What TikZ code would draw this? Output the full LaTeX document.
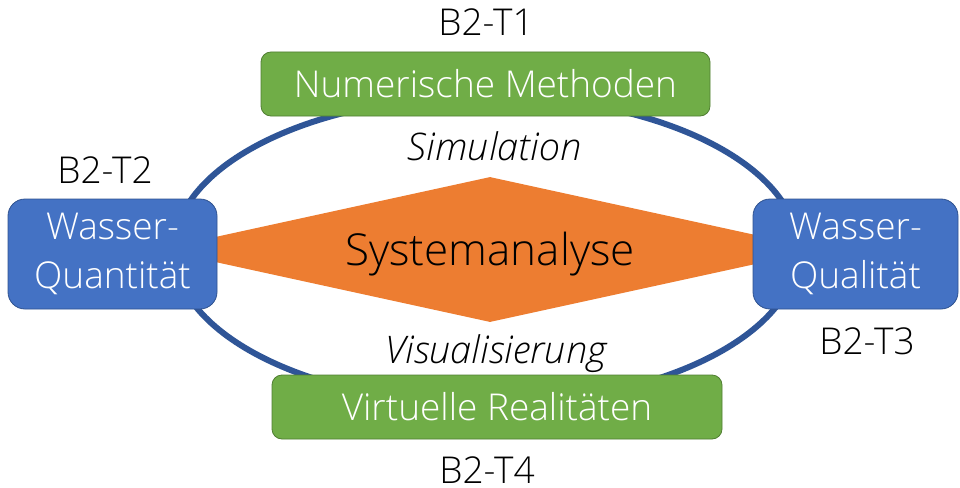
\documentclass[tikz,border=0pt]{standalone}
\usepackage{fontspec}
\setmainfont{Open Sans}[UprightFont=* Light, ItalicFont=* Light Italic]
\usepackage{tikz}
\usetikzlibrary{shapes, shapes.geometric}
\definecolor{ringblue}{HTML}{2F5597}
\definecolor{boxblue}{HTML}{4472C4}
\definecolor{boxblueline}{HTML}{2F528F}
\definecolor{boxgreen}{HTML}{70AD47}
\definecolor{boxgreenline}{HTML}{507E32}
\definecolor{sysorange}{HTML}{ED7D31}

\begin{document}
\begin{tikzpicture}
[x=1pt, y=-1pt, font=\fontsize{37}{49}\selectfont,
 quantbox/.style={draw=boxblueline, line width=0.8pt, fill=boxblue, text=white, rounded corners=17pt, minimum height=110pt, align=center, inner sep=0pt},
 methbox/.style={draw=boxgreenline, line width=0.8pt, fill=boxgreen, text=white, rounded corners=10pt, minimum height=64pt, inner sep=0pt},
 tag/.style={anchor=base, inner sep=0pt}]
\useasboundingbox (0,0) rectangle (960,487);
\draw[ringblue, line width=6pt] (486,250) ellipse [x radius=312, y radius=154];
\node (sys) at (490,249.5)
[diamond, aspect=4.58, fill=sysorange, inner sep=0pt, minimum width=664pt, minimum height=145pt, text height=32pt, text depth=0pt, font=\fontsize{44}{49}\selectfont] {Systemanalyse};
\node (num) at (485.5,84) [methbox, minimum width=449pt] {Numerische Methoden};
\node (vr) at (497,407) [methbox, minimum width=450pt] {Virtuelle Realitäten};
\node (quant) at (112.5,254) [quantbox, minimum width=209pt] {Wasser-\\Quantität};
\node (qual) at (855.5,254) [quantbox, minimum width=205pt] {Wasser-\\Qualität};
\node (t1) at (486,36) [tag] {B2-T1};
\node (t2) at (105,183) [tag] {B2-T2};
\node (t3) at (867,354) [tag] {B2-T3};
\node (t4) at (487,483) [tag] {B2-T4};
\node (sim) at (494.5,160) [tag, font=\fontsize{38}{49}\itshape] {Simulation};
\node (vis) at (496,363) [tag, font=\fontsize{38}{49}\itshape] {Visualisierung};
\end{tikzpicture}
\end{document}
